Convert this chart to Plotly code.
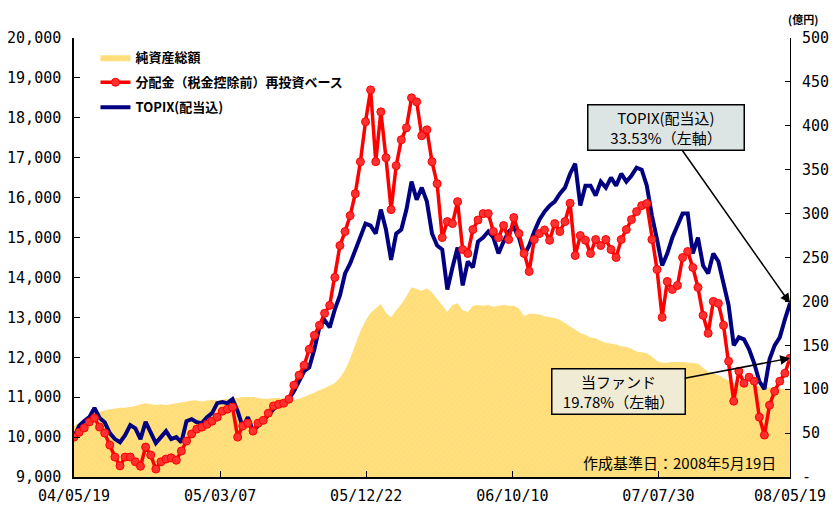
import plotly.graph_objects as go

# trading-day index (every 7 trading days), 0 = 2004/05/19, 980 = 2008/05/19
trading_day = list(range(0, 981, 7))

tick_days = [0, 200, 400, 600, 800, 980]
tick_labels = ["04/05/19", "05/03/07", "05/12/22", "06/10/10", "07/07/30", "08/05/19"]

# TOPIX (dividends included), left axis
topix = [10000, 10280, 10400, 10500, 10730, 10480, 10370, 10100, 9950, 9870,
         10050, 10300, 10220, 9950, 10380, 10100, 9850, 10000, 10150, 9950,
         10000, 9870, 10400, 10450, 10370, 10350, 10500, 10600, 10850, 10880,
         10850, 10950, 10650, 10250, 10500, 10150, 10300, 10420, 10550, 10700,
         10800, 10850, 10950, 11150, 11400, 11650, 11750, 12200, 12760, 12930,
         12750, 13200, 13550, 14100, 14350, 14700, 15050, 15350, 15300, 15100,
         15700, 15200, 14440, 15100, 15200, 15700, 16400, 15950, 16250, 15900,
         15100, 14800, 14700, 13700, 14250, 14750, 13800, 14400, 14250, 14900,
         15000, 15150, 15000, 14600, 14900, 15150, 15250, 15000, 14550, 14800,
         15150, 15450, 15650, 15800, 15900, 16100, 16250, 16600, 16850, 15800,
         16300, 16300, 16050, 16400, 16250, 16500, 16300, 16600, 16400, 16550,
         16750, 16700, 16300, 15550, 14950, 14300, 14600, 15000, 15300, 15600,
         15600, 14600, 15000, 14300, 14100, 14600, 14400, 13800, 13300, 12300,
         12500, 12450, 12200, 11850, 11400, 11200, 11950, 12300, 12500, 12950,
         13353]

# Fund NAV (pre-tax dividends reinvested), left axis
fund = [10000, 10120, 10230, 10380, 10480, 10250, 10100, 9800, 9500, 9280,
        9500, 9500, 9380, 9270, 9750, 9550, 9200, 9380, 9450, 9480,
        9420, 9650, 9900, 10080, 10200, 10250, 10320, 10400, 10500, 10650,
        10700, 10750, 10000, 10280, 10350, 10150, 10350, 10420, 10600, 10780,
        10820, 10850, 10950, 11300, 11550, 11800, 12200, 12550, 12800, 13100,
        13300, 14000, 14800, 15150, 15550, 16100, 16900, 17900, 18700, 16900,
        18150, 17000, 15700, 16800, 17450, 17750, 18500, 18400, 17550, 17700,
        16900, 16350, 15000, 15400, 15350, 15900, 14700, 14600, 15200, 15440,
        15600, 15600, 15150, 15000, 15300, 14950, 15500, 15100, 14600, 14150,
        14950, 15100, 15190, 14930, 15350, 15150, 15400, 15860, 14550, 15050,
        14930, 14600, 14950, 14800, 14950, 14700, 14500, 14950, 15200, 15450,
        15650, 15800, 15850, 14950, 14200, 13000, 13900, 13700, 13800, 14500,
        14650, 14250, 13750, 13050, 12600, 13400, 13350, 12800, 11900, 10900,
        11650, 11350, 11500, 11400, 10500, 10050, 10800, 11150, 11400, 11600,
        11978]

# Net assets (100 million yen), right axis
net_assets = [58, 62, 66, 70, 73, 74, 76, 77, 78, 79,
              79, 80, 81, 83, 84, 83, 82, 83, 82, 83,
              84, 85, 86, 87, 87, 86, 87, 88, 87, 88,
              89, 90, 90, 91, 91, 91, 90, 89, 89, 90,
              90, 89, 88, 88, 89, 91, 94, 96, 99, 101,
              104, 107, 113, 122, 135, 150, 166, 178, 187, 192,
              197, 187, 182, 190, 197, 206, 216, 214, 212, 215,
              210, 203, 196, 188, 196, 198, 190, 188, 195, 196,
              195, 196, 194, 195, 196, 195, 195, 192, 183, 186,
              186, 185, 183, 182, 181, 179, 175, 172, 168, 164,
              162, 159, 158, 155, 153, 152, 151, 149, 148, 146,
              143, 142, 141, 137, 132, 130, 130, 131, 131, 131,
              130, 130, 129, 124, 120, 118, 116, 113, 110, 107,
              106, 107, 106, 104, 103, 103, 102, 101, 101, 100,
              100]

right_ticks = list(range(0, 501, 50))
right_labels = ["-"] + [str(v) for v in right_ticks[1:]]

FONT = "Noto Sans CJK JP"
TICKFONT = dict(family="DejaVu Sans Mono", size=15, color="black")

fig = go.Figure()

fig.add_trace(go.Scatter(
    x=trading_day, y=net_assets, name="純資産総額", yaxis="y",
    mode="lines", line=dict(width=0, color="#FFDC70"),
    fill="tozeroy", fillcolor="#FFDF7C",
    fillpattern=dict(shape="/", bgcolor="#FFDD78", fgcolor="#FFEAA8",
                     size=4, solidity=0.2),
    legendrank=1, legendgroup="a",
))

fig.add_trace(go.Scatter(
    x=trading_day, y=topix, name="TOPIX(配当込)", yaxis="y2",
    mode="lines", line=dict(width=4, color="#000080"),
    legendrank=3, legendgroup="c",
))

fig.add_trace(go.Scatter(
    x=trading_day, y=fund, name="分配金（税金控除前）再投資ベース", yaxis="y2",
    mode="lines+markers", line=dict(width=3.5, color="#FF0000"),
    marker=dict(symbol="circle", size=8, color="#FF3030",
                line=dict(width=1, color="#FF0000")),
    legendrank=2, legendgroup="b",
))

# page body has an 8px margin, so the figure is drawn 8px in from the corner
fig.update_layout(
    width=829, height=500,
    margin=dict(l=66, r=47, t=30, b=31, autoexpand=False),
    paper_bgcolor="white", plot_bgcolor="white",
    font=dict(family=FONT, size=14, color="black"),
    showlegend=True,
    legend=dict(x=0.03, y=0.99, xanchor="left", yanchor="top",
                bgcolor="rgba(0,0,0,0)", font=dict(size=13, weight="bold"),
                traceorder="grouped", tracegroupgap=5),
    xaxis=dict(range=[0, 980], tickvals=tick_days, ticktext=tick_labels,
               ticks="inside", ticklen=6, tickcolor="black",
               showline=True, linecolor="black", linewidth=1.5,
               showgrid=False, zeroline=False, automargin=False,
               tickfont=TICKFONT, ticklabelstandoff=4),
    yaxis=dict(range=[0, 500], tickvals=right_ticks, ticktext=right_labels,
               side="right", ticks="inside", ticklen=5, tickcolor="black",
               showline=True, linecolor="black", linewidth=1,
               showgrid=False, zeroline=False, automargin=False,
               tickfont=TICKFONT, ticklabelstandoff=8),
    yaxis2=dict(range=[9000, 20000], dtick=1000, tickformat=",d",
                overlaying="y", side="left", ticks="inside", ticklen=6,
                tickcolor="black", showline=True, linecolor="black",
                linewidth=1.5, showgrid=False, zeroline=False,
                automargin=False, tickfont=TICKFONT, ticklabelstandoff=8),
)

fig.add_annotation(
    x=980, y=13353, xref="x", yref="y2", ax=-124, ay=-176,
    text="TOPIX(配当込)<br>33.53%（左軸）", showarrow=True,
    arrowhead=2, arrowsize=1.3, arrowwidth=1.5, arrowcolor="black",
    font=dict(size=15, family=FONT), align="center",
    bgcolor="#DDE4E4", bordercolor="black", borderwidth=1.5, borderpad=2,
    width=151, height=40,
)
fig.add_annotation(
    x=980, y=11978, xref="x", yref="y2", ax=-172, ay=33,
    text="当ファンド<br>19.78%（左軸）", showarrow=True,
    arrowhead=2, arrowsize=1.3, arrowwidth=1.5, arrowcolor="black",
    font=dict(size=15, family=FONT), align="center",
    bgcolor="#EFEBD4", bordercolor="black", borderwidth=1.5, borderpad=2,
    width=128, height=40,
)
fig.add_annotation(
    x=0.983, y=0.034, xref="paper", yref="paper", xanchor="right",
    yanchor="middle", showarrow=False,
    text="作成基準日：2008年5月19日", font=dict(size=15, family=FONT),
)
fig.add_annotation(
    x=1.018, y=1.044, xref="paper", yref="paper", xanchor="center",
    yanchor="middle", showarrow=False,
    text="(億円)", font=dict(size=11, family=FONT, weight="bold"),
)

fig.write_html("out.html")
